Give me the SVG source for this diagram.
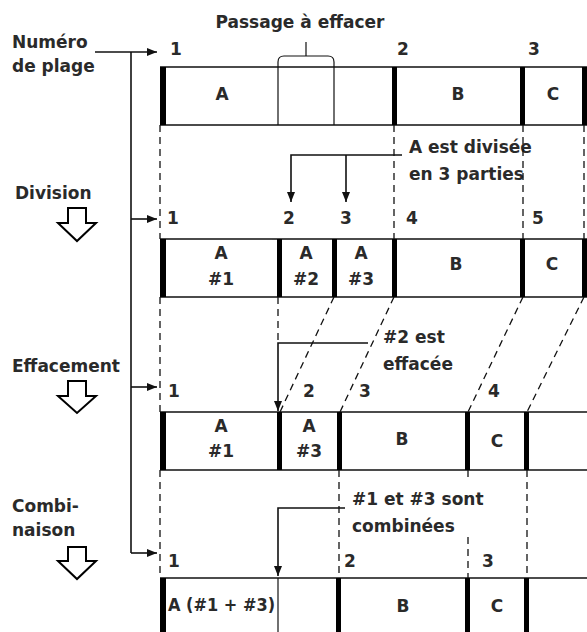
<svg xmlns="http://www.w3.org/2000/svg" width="587" height="632" viewBox="0 0 587 632">
<defs>
<marker id="ah" markerUnits="userSpaceOnUse" markerWidth="10" markerHeight="8" viewBox="0 0 10 8" refX="10" refY="4" orient="auto">
<path d="M0,0 L10,4 L0,8 Z" fill="#111"/>
</marker>
<style>
text{font-family:"DejaVu Sans","Liberation Sans",sans-serif;font-weight:bold;font-size:17px;fill:#2a2a2a}
.c{text-anchor:middle}
.ln{stroke:#111;stroke-width:1.6;fill:none}
.th{stroke:#111;stroke-width:1.2;fill:none}
.bar{fill:#000}
.dash{stroke:#111;stroke-width:1.3;stroke-dasharray:7 5;fill:none}
.arr{stroke:#111;stroke-width:1.6;fill:none;marker-end:url(#ah)}
.hollow{fill:#fff;stroke:#000;stroke-width:2;stroke-linejoin:miter}
</style>
</defs>
<rect width="587" height="632" fill="#fff"/>

<g id="labels-left">
<text x="12" y="48">Numéro</text>
<text x="12" y="72">de plage</text>
<text x="15" y="199">Division</text>
<text x="12" y="372">Effacement</text>
<text x="12" y="512">Combi-</text>
<text x="12" y="536">naison</text>
<polygon class="hollow" points="68,208 86,208 86,223 96,223 77,241 58,223 68,223"/>
<polygon class="hollow" points="68,381 86,381 86,396 96,396 77,413 58,396 68,396"/>
<polygon class="hollow" points="68,547 86,547 86,561 96,561 77,579 58,561 68,561"/>
</g>

<g id="passage">
<text class="c" x="300" y="28">Passage à effacer</text>
<path class="th" d="M278,67 V62 Q278,56 284,56 H328 Q334,56 334,62 V67 M306,56 V42"/>
</g>

<g id="row1">
<path class="ln" d="M160,67 H587 M160,125 H587"/>
<path class="th" d="M278,67 V125 M334,67 V125"/>
<rect class="bar" x="160" y="67" width="6" height="58"/>
<rect class="bar" x="392" y="67" width="5" height="58"/>
<rect class="bar" x="520" y="67" width="5" height="58"/>
<rect class="bar" x="582" y="67" width="5" height="58"/>
<text class="c" x="222" y="100">A</text>
<text class="c" x="458" y="100">B</text>
<text class="c" x="553" y="100">C</text>
<text x="170" y="55">1</text>
<text x="397" y="55">2</text>
<text x="528" y="55">3</text>
</g>

<g id="row2">
<path class="ln" d="M160,239 H587 M160,297 H587"/>
<rect class="bar" x="160" y="239" width="6" height="58"/>
<rect class="bar" x="277" y="239" width="5" height="58"/>
<rect class="bar" x="332" y="239" width="5" height="58"/>
<rect class="bar" x="392" y="239" width="5" height="58"/>
<rect class="bar" x="520" y="239" width="5" height="58"/>
<rect class="bar" x="582" y="239" width="5" height="58"/>
<text class="c" x="221" y="259">A</text>
<text class="c" x="221" y="285">#1</text>
<text class="c" x="306" y="259">A</text>
<text class="c" x="306" y="285">#2</text>
<text class="c" x="361" y="259">A</text>
<text class="c" x="361" y="285">#3</text>
<text class="c" x="456" y="270">B</text>
<text class="c" x="552" y="270">C</text>
<text x="167" y="224">1</text>
<text x="283" y="224">2</text>
<text x="340" y="224">3</text>
<text x="406" y="224">4</text>
<text x="532" y="224">5</text>
<text x="409" y="153">A est divisée</text>
<text x="409" y="180">en 3 parties</text>
</g>

<g id="row3">
<path class="ln" d="M160,412 H587 M160,470 H587"/>
<rect class="bar" x="160" y="412" width="6" height="58"/>
<rect class="bar" x="277" y="412" width="5" height="58"/>
<rect class="bar" x="337" y="412" width="5" height="58"/>
<rect class="bar" x="465" y="412" width="5" height="58"/>
<rect class="bar" x="524" y="412" width="5" height="58"/>
<text class="c" x="221" y="432">A</text>
<text class="c" x="221" y="457">#1</text>
<text class="c" x="309" y="432">A</text>
<text class="c" x="309" y="457">#3</text>
<text class="c" x="402" y="445">B</text>
<text class="c" x="497" y="447">C</text>
<text x="168" y="397">1</text>
<text x="303" y="397">2</text>
<text x="359" y="397">3</text>
<text x="488" y="397">4</text>
<text x="383" y="343">#2 est</text>
<text x="383" y="370">effacée</text>
</g>

<g id="row4">
<path class="ln" d="M160,578 H587"/>
<path class="th" d="M278,578 V632"/>
<rect class="bar" x="160" y="578" width="6" height="54"/>
<rect class="bar" x="336" y="578" width="5" height="54"/>
<rect class="bar" x="465" y="578" width="5" height="54"/>
<rect class="bar" x="524" y="578" width="5" height="54"/>
<text x="168" y="611" textLength="107" lengthAdjust="spacingAndGlyphs">A (#1 + #3)</text>
<text class="c" x="403" y="612">B</text>
<text class="c" x="497" y="612">C</text>
<text x="168" y="567">1</text>
<text x="344" y="567">2</text>
<text x="482" y="567">3</text>
<text x="352" y="505">#1 et #3 sont</text>
<text x="352" y="532">combinées</text>
</g>

<g id="connectors">
<path class="dash" d="M160,125 V239 M394,125 V239 M523,125 V239 M584,125 V239"/>
<path class="dash" d="M160,297 V412 M278,297 V343"/>
<path class="dash" d="M334,297 L280,412 M394,297 L340,412 M523,297 L468,412 M584,297 L527,412"/>
<path class="dash" d="M160,470 V578 M339,470 V578 M468,470 V480 M468,537 V578 M527,470 V578"/>
<path class="arr" d="M95,52 H157"/>
<path class="ln" d="M131,52 V553"/>
<path class="arr" d="M131,219 H157"/>
<path class="arr" d="M131,387 H157"/>
<path class="arr" d="M131,553 H157"/>
<path class="arr" d="M402,155 H291 V202"/>
<path class="arr" d="M346,155 V202"/>
<path class="arr" d="M368,343 H278 V411"/>
<path class="arr" d="M345,508 H278 V576"/>
</g>
</svg>
